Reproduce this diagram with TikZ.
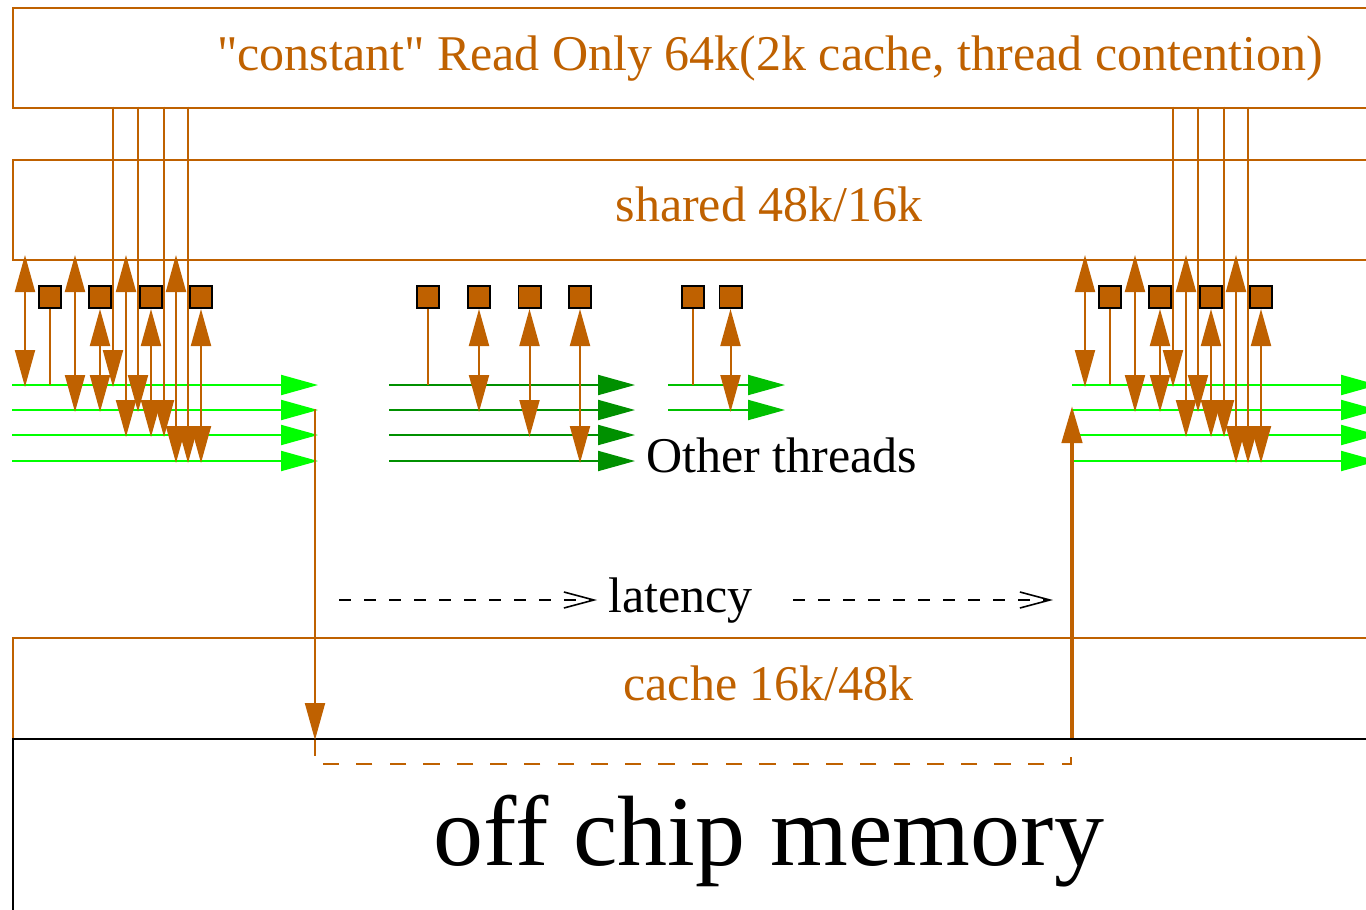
\documentclass[tikz,border=0pt]{standalone}
\usepackage{fontspec}
\setmainfont{Liberation Serif}
\usetikzlibrary{arrows.meta}
\definecolor{fig}{RGB}{191,97,0}
\definecolor{gA}{RGB}{0,255,0}
\definecolor{gB}{RGB}{0,144,0}
\definecolor{gC}{RGB}{0,192,0}
\begin{document}
\begin{tikzpicture}[x=1pt,y=-1pt,
  >={Triangle[length=37pt,width=20pt]},
  ln/.style={fig,line width=2pt},
  grn/.style={line width=2pt,->},
  sq/.style={draw=black,fill=fig,line width=1.6pt,minimum size=22.4pt,inner sep=0pt},
  membox/.style={line width=2pt,minimum width=1370pt,anchor=north west,inner sep=0pt},
  lbl/.style={inner sep=0pt,font=\fontsize{50}{60}\selectfont},
  lat/.style={black,line width=1.6pt,dash pattern=on 12pt off 13pt,-{Straight Barb[length=30pt,width=16pt]}}
]
\useasboundingbox (0,0) rectangle (1366,910);
\clip (0,0) rectangle (1366,910);
\fill[white] (0,0) rectangle (1366,910);

% boxes
\node[membox,draw=fig,minimum height=99.5pt] (const) at (12,7) {};
\node[membox,draw=fig,minimum height=99.5pt] (shared) at (12,159) {};
\node[membox,draw=fig,minimum height=101pt] (cache) at (12,637) {};
\node[membox,draw=black,minimum height=200pt] (mem) at (12,738) {};

% labels
\node[lbl,fig,anchor=base] (tconst) at (770,70) {\textquotedbl constant\textquotedbl\ Read Only 64k(2k cache, thread contention)};
\node[lbl,fig,anchor=base] (tshared) at (769,221) {shared 48k/16k};
\node[lbl,fig,anchor=base] (tcache) at (768.5,700) {cache 16k/48k};
\node[lbl,anchor=base west] (tother) at (646,472) {Other threads};
\node[lbl,anchor=base] (tlat) at (680.5,612) {latency};
\node[inner sep=0pt,anchor=base,font=\fontsize{100}{120}\selectfont] (tmem) at (769,865) {off chip memory};

% green thread lines, left and right clusters
\foreach \c/\ox in {L/0,R/1060}{
  \foreach \i/\y in {1/385,2/410,3/435,4/461}{
    \coordinate (\c g\i a) at ({\ox+12},\y);
    \coordinate (\c g\i b) at ({\ox+318},\y);
    \draw[grn,gA] (\c g\i a) -- (\c g\i b);
  }
}
% middle green lines
\foreach \i/\y in {1/385,2/410,3/435,4/461}{
  \coordinate (Mg\i a) at (389,\y);
  \coordinate (Mg\i b) at (635,\y);
  \draw[grn,gB] (Mg\i a) -- (Mg\i b);
}
\foreach \i/\y in {1/385,2/410}{
  \coordinate (Ng\i a) at (668,\y);
  \coordinate (Ng\i b) at (785,\y);
  \draw[grn,gC] (Ng\i a) -- (Ng\i b);
}

% left and right clusters
\foreach \c/\ox in {L/0,R/1060}{
  \foreach \i/\y/\sx/\qx in {1/385/25/50,2/410/75/100,3/435/126/151,4/461/176/201}{
    \node[sq] (\c q\i) at ({\ox+\qx},297) {};
    \coordinate (\c n\i) at ({\ox+\qx},\y+2);
  }
  \coordinate (\c p) at ({\ox+50},385);
  \draw[ln] (\c q1.south) -- (\c p);
  \foreach \i in {2,3,4}{\draw[ln,<->] (\c q\i.south) -- (\c n\i);}
  \foreach \i/\y/\sx/\cx in {1/385/25/113,2/410/75/138,3/435/126/164,4/461/176/188}{
    \coordinate (\c s\i) at ({\ox+\sx},255);
    \coordinate (\c t\i) at ({\ox+\sx},\y+2);
    \draw[ln,<->] (\c s\i) -- (\c t\i);
    \coordinate (\c k\i) at ({\ox+\cx},106.5);
    \coordinate (\c m\i) at ({\ox+\cx},\y+2);
    \draw[ln,->] (\c k\i) -- (\c m\i);
  }
}

% middle registers
\foreach \i/\y/\qx in {1/385/428,2/410/479,3/435/529.5,4/461/580}{
  \node[sq] (Mq\i) at (\qx,297) {};
  \coordinate (Mn\i) at (\qx,\y+2);
}
\coordinate (Mp) at (428,385);
\draw[ln] (Mq1.south) -- (Mp);
\foreach \i in {2,3,4}{\draw[ln,<->] (Mq\i.south) -- (Mn\i);}
\node[sq] (Nq1) at (693,297) {};
\node[sq] (Nq2) at (730.5,297) {};
\coordinate (Np) at (693,385);
\coordinate (Nn2) at (730.5,412);
\draw[ln] (Nq1.south) -- (Np);
\draw[ln,<->] (Nq2.south) -- (Nn2);

% memory request / response
\coordinate (da) at (315,409);
\coordinate (db) at (315,740);
\coordinate (dc) at (315,756);
\draw[ln,->] (da) -- (db);
\draw[ln] (db) -- (dc);
\coordinate (ea) at (1071,757);
\coordinate (eb) at (1071,764);
\coordinate (ec) at (323,764);
\draw[fig,line width=2pt,dash pattern=on 16.5pt off 17.1pt] (ea) -- (eb) -- (ec);
\coordinate (ua) at (1072,738);
\coordinate (ub) at (1072,406);
\draw[fig,line width=4.5pt,->] (ua) -- (ub);

% latency
\coordinate (la) at (339,600);
\coordinate (lb) at (597,600);
\coordinate (lc) at (793,600);
\coordinate (ld) at (1053,600);
\draw[lat] (la) -- (lb);
\draw[lat] (lc) -- (ld);
\end{tikzpicture}
\end{document}
